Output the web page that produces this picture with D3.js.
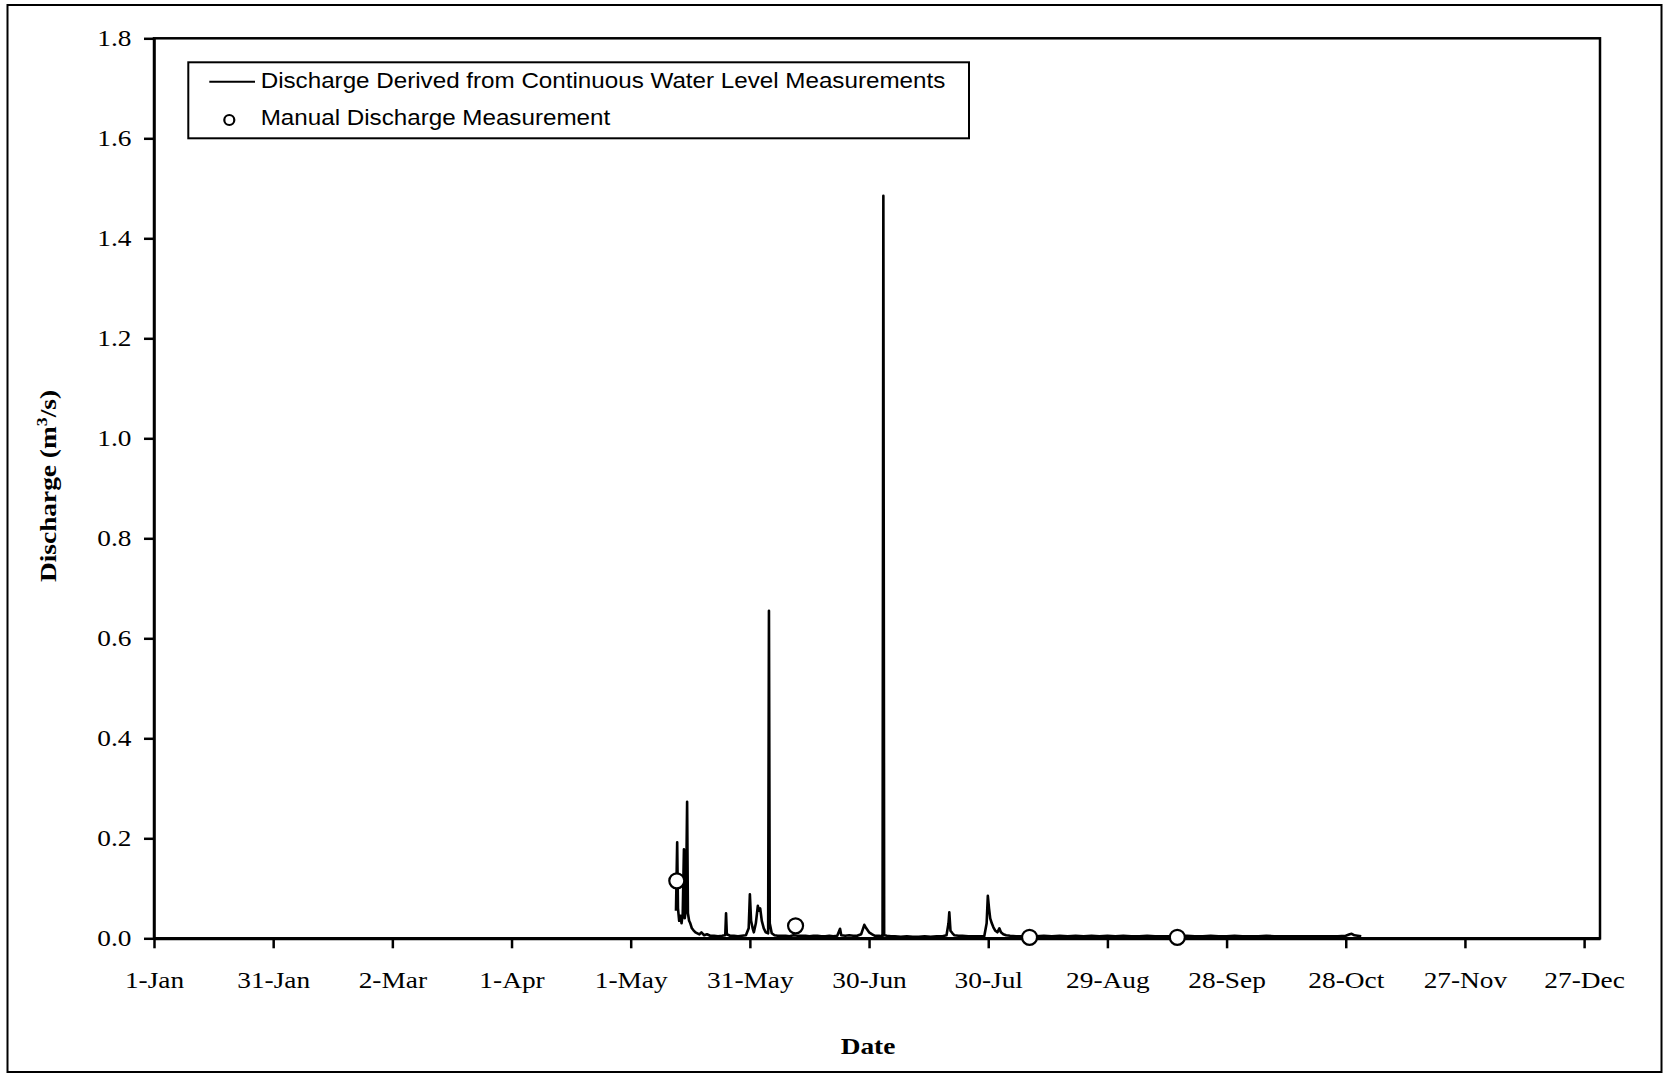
<!DOCTYPE html>
<html>
<head>
<meta charset="utf-8">
<script src="https://cdn.jsdelivr.net/npm/d3@7"></script>
<style>
  html, body { margin: 0; padding: 0; background: #fff; }
  svg { display: block; }
</style>
</head>
<body>
<svg id="chart" width="1663" height="1074"></svg>
<script>
// ---- Data (day of year, 0 = 1-Jan) ----
const xTickDays = [0, 30, 60, 90, 120, 150, 180, 210, 240, 270, 300, 330, 360];
const xTickLabels = ["1-Jan", "31-Jan", "2-Mar", "1-Apr", "1-May", "31-May", "30-Jun",
                     "30-Jul", "29-Aug", "28-Sep", "28-Oct", "27-Nov", "27-Dec"];
const yTickValues = [0, 0.2, 0.4, 0.6, 0.8, 1.0, 1.2, 1.4, 1.6, 1.8];

const flowDays = [
  131.4, 131.7, 131.9, 132.2, 132.5, 132.8, 133.1, 133.4, 133.6, 133.9, 134.2, 134.4, 134.7,
  135.0, 135.4, 135.8, 136.3, 136.8, 137.3, 137.8, 138.5, 139.2, 140.0, 141.0, 142.0, 143.0,
  143.8, 144.0, 144.2, 145.0, 146.0, 147.0, 148.0, 149.0, 149.7, 150.0, 150.3, 150.7, 151.0,
  151.5, 152.0, 152.3, 152.6, 153.0, 153.5, 154.0, 154.6, 154.8, 155.0, 155.5, 156.2, 157.0,
  158.0, 159.0, 160.0, 161.0, 162.0, 163.0, 164.0, 165.0, 166.0, 167.0, 168.0, 169.0, 170.0,
  171.0, 172.0, 172.7, 173.0, 174.0, 175.0, 176.0, 177.0, 178.0, 178.8, 179.3, 180.0, 180.8,
  181.5, 182.5, 183.4, 183.6, 183.8, 184.5, 185.5, 186.5, 188.0, 189.5, 191.0, 192.5, 194.0,
  195.5, 197.0, 198.5, 199.5, 200.0, 200.2, 200.5, 201.0, 201.5, 202.5, 203.5, 205.0, 206.5,
  208.0, 209.0, 209.6, 209.9, 210.2, 210.5, 210.9, 211.3, 211.8, 212.3, 212.8, 213.2, 213.8,
  214.5, 215.5, 217.0, 218.5, 220.0, 222.0, 224.0, 226.0, 228.0, 230.0, 232.0, 234.0, 236.0,
  238.0, 240.0, 242.0, 244.0, 246.0, 248.0, 250.0, 252.0, 254.0, 256.0, 258.0, 260.0, 262.0,
  264.0, 266.0, 268.0, 270.0, 272.0, 274.0, 276.0, 278.0, 280.0, 282.0, 284.0, 286.0, 288.0,
  290.0, 292.0, 294.0, 296.0, 298.0, 300.0, 301.0, 301.5, 302.2, 303.0, 303.9
];
const flowValues = [
  0.055, 0.192, 0.060, 0.035, 0.045, 0.030, 0.050, 0.178, 0.040, 0.060, 0.273, 0.050, 0.035,
  0.030, 0.020, 0.016, 0.012, 0.010, 0.008, 0.012, 0.006, 0.008, 0.005, 0.005, 0.004, 0.005,
  0.006, 0.050, 0.008, 0.005, 0.005, 0.004, 0.005, 0.006, 0.020, 0.088, 0.035, 0.020, 0.012,
  0.030, 0.065, 0.055, 0.060, 0.035, 0.020, 0.012, 0.010, 0.655, 0.030, 0.010, 0.006, 0.005,
  0.005, 0.005, 0.004, 0.006, 0.005, 0.005, 0.005, 0.004, 0.005, 0.005, 0.004, 0.004, 0.005,
  0.004, 0.005, 0.019, 0.006, 0.005, 0.006, 0.005, 0.005, 0.008, 0.027, 0.020, 0.012, 0.008,
  0.005, 0.005, 0.004, 1.485, 0.006, 0.005, 0.004, 0.004, 0.003, 0.004, 0.003, 0.003, 0.004,
  0.003, 0.004, 0.004, 0.006, 0.030, 0.052, 0.015, 0.010, 0.006, 0.005, 0.005, 0.004, 0.004,
  0.004, 0.004, 0.030, 0.085, 0.060, 0.040, 0.030, 0.022, 0.015, 0.012, 0.020, 0.012, 0.008,
  0.006, 0.005, 0.004, 0.004, 0.003, 0.004, 0.005, 0.004, 0.005, 0.004, 0.005, 0.004, 0.005,
  0.004, 0.005, 0.004, 0.005, 0.004, 0.004, 0.005, 0.004, 0.004, 0.004, 0.004, 0.005, 0.004,
  0.004, 0.005, 0.004, 0.004, 0.005, 0.004, 0.004, 0.004, 0.005, 0.004, 0.004, 0.004, 0.004,
  0.004, 0.004, 0.004, 0.004, 0.004, 0.005, 0.008, 0.009, 0.006, 0.005, 0.004
];

const manualDays = [131.6, 161.5, 220.4, 257.6];
const manualValues = [0.115, 0.025, 0.002, 0.002];

const seriesNames = ["Discharge Derived from Continuous Water Level Measurements",
                     "Manual Discharge Measurement"];
const xTitle = "Date";

// ---- Layout ----
const plot = { left: 154, right: 1600, top: 38.3, bottom: 938.3 };
const serif = "'Liberation Serif', 'Times New Roman', Times, serif";
const sans = "'Liberation Sans', Arial, Helvetica, sans-serif";
const serifStretch = 1.19;
const sansStretch = 1.1;

const svg = d3.select("#chart");

// outer border
svg.append("rect")
  .attr("x", 7.5).attr("y", 5).attr("width", 1654).attr("height", 1067)
  .attr("fill", "#fff").attr("stroke", "#000").attr("stroke-width", 2);

const x = d3.scaleLinear().domain([0, 364]).range([plot.left, plot.right]);
const y = d3.scaleLinear().domain([0, 1.8]).range([plot.bottom, plot.top]);

// plot frame
svg.append("rect")
  .attr("x", plot.left).attr("y", plot.top)
  .attr("width", plot.right - plot.left).attr("height", plot.bottom - plot.top)
  .attr("fill", "none").attr("stroke", "#000").attr("stroke-width", 2.5);

// x axis
const xAxis = d3.axisBottom(x)
  .tickValues(xTickDays)
  .tickFormat((d, i) => xTickLabels[i])
  .tickSizeInner(10).tickSizeOuter(0);
const gx = svg.append("g").attr("transform", `translate(0,${plot.bottom})`).call(xAxis);
gx.select(".domain").attr("stroke-width", 3);
gx.selectAll(".tick line").attr("stroke-width", 2.5);
gx.selectAll(".tick text")
  .attr("font-family", serif).attr("font-size", 23).attr("fill", "#000")
  .attr("y", 50).attr("dy", 0)
  .attr("transform", `scale(${serifStretch},1)`);

// y axis
const yAxis = d3.axisLeft(y)
  .tickValues(yTickValues)
  .tickFormat(d3.format(".1f"))
  .tickSizeInner(10).tickSizeOuter(0);
const gy = svg.append("g").attr("transform", `translate(${plot.left},0)`).call(yAxis);
gy.select(".domain").attr("stroke-width", 2.5);
gy.selectAll(".tick line").attr("stroke-width", 2.5);
gy.selectAll(".tick text")
  .attr("font-family", serif).attr("font-size", 23).attr("fill", "#000")
  .attr("x", -22.5 / serifStretch).attr("dy", "0.33em")
  .attr("transform", `scale(${serifStretch},1)`);

// data line
const line = d3.line()
  .x((d, i) => x(flowDays[i]))
  .y((d, i) => y(flowValues[i]));
svg.append("path")
  .datum(flowValues)
  .attr("d", line)
  .attr("fill", "none").attr("stroke", "#000")
  .attr("stroke-width", 2.6).attr("stroke-linejoin", "round");

// manual measurements
svg.append("g").selectAll("circle")
  .data(manualValues)
  .join("circle")
  .attr("cx", (d, i) => x(manualDays[i]))
  .attr("cy", d => y(d))
  .attr("r", 7.5)
  .attr("fill", "#fff").attr("stroke", "#000").attr("stroke-width", 2.2);

// legend
const lg = svg.append("g");
lg.append("rect")
  .attr("x", 188.3).attr("y", 62.3).attr("width", 780.7).attr("height", 76)
  .attr("fill", "#fff").attr("stroke", "#000").attr("stroke-width", 2);
lg.append("line")
  .attr("x1", 209.3).attr("x2", 255).attr("y1", 81.7).attr("y2", 81.7)
  .attr("stroke", "#000").attr("stroke-width", 2);
lg.append("circle")
  .attr("cx", 229.3).attr("cy", 120).attr("r", 5)
  .attr("fill", "#fff").attr("stroke", "#000").attr("stroke-width", 2.2);
lg.selectAll("text.leg")
  .data(seriesNames)
  .join("text")
  .attr("class", "leg")
  .attr("x", 260.7 / sansStretch)
  .attr("y", (d, i) => i === 0 ? 88.3 : 125.5)
  .attr("transform", `scale(${sansStretch},1)`)
  .attr("font-family", sans).attr("font-size", 22).attr("fill", "#000")
  .text(d => d);

// x title
svg.append("text")
  .attr("x", 868 / serifStretch).attr("y", 1054)
  .attr("transform", `scale(${serifStretch},1)`)
  .attr("text-anchor", "middle")
  .attr("font-family", serif).attr("font-weight", "bold").attr("font-size", 23)
  .attr("fill", "#000")
  .text(xTitle);

// y title
const yt = svg.append("text")
  .attr("transform", `translate(56,486) rotate(-90) scale(${serifStretch},1)`)
  .attr("text-anchor", "middle")
  .attr("font-family", serif).attr("font-weight", "bold").attr("font-size", 23)
  .attr("fill", "#000");
yt.append("tspan").text("Discharge (m");
yt.append("tspan").attr("font-size", 15).attr("dy", -9).text("3");
yt.append("tspan").attr("dy", 9).text("/s)");
</script>
</body>
</html>
